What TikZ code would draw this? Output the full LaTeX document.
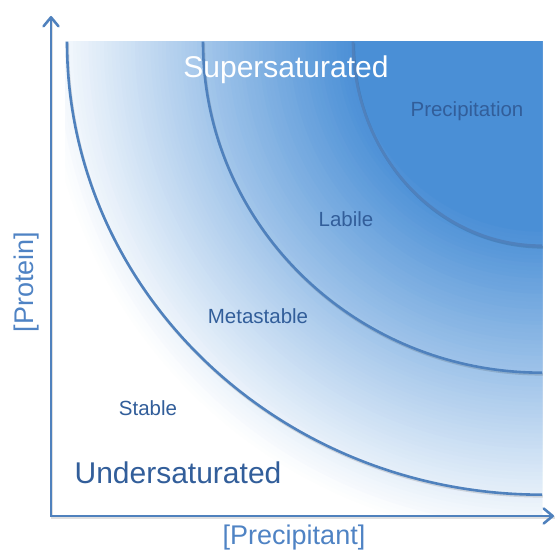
\documentclass[tikz,border=0pt]{standalone}
\usepackage{fontspec}
\setmainfont{Liberation Sans}
\usetikzlibrary{arrows.meta}
\definecolor{zoneblue}{RGB}{74,143,214}
\definecolor{linecol}{RGB}{79,129,189}
\definecolor{labelcol}{RGB}{50,94,154}
\definecolor{axislabel}{RGB}{79,131,196}
\begin{document}
\begin{tikzpicture}[x=1pt,y=1pt,
  boundary/.style={draw=linecol, line width=2.6pt},
  boundaryshadow/.style={draw=black, opacity=0.12, line width=2.6pt},
  axisline/.style={draw=linecol, line width=2.8pt,
    {Straight Barb[length=9pt,width=15pt,line width=2.6pt,round]}-{Straight Barb[length=9pt,width=15pt,line width=2.6pt,round]}},
  zone/.style={text=labelcol, font=\fontsize{20.5}{24}\selectfont},
  regime/.style={font=\fontsize{30}{36}\selectfont},
  axislab/.style={text=axislabel, font=\fontsize{27}{32}\selectfont}]
\useasboundingbox (0,0) rectangle (557,551);
\coordinate (corner) at (542,509.3);

% radial shading from the top right corner of the phase region
\begin{scope}
  \clip (65,35) rectangle (542,509.3);
  \fill[white] (65,35) rectangle (542,509.3);
  \foreach \i in {0,...,80} {
    \pgfmathsetmacro\rad{500-\i*3.875}
    \pgfmathtruncatemacro\pct{\i*1.25}
    \fill[zoneblue!\pct!white] (corner) circle[radius=\rad pt];
  }
\end{scope}

% solubility boundaries
\foreach \rx/\ry in {475/453, 339/331, 189/204} {
  \draw[boundaryshadow] ([shift={(0.8,-1.6)}]corner) ++(-\rx,0)
    arc[start angle=180, end angle=270, x radius=\rx pt, y radius=\ry pt];
  \draw[boundary] (corner) ++(-\rx,0)
    arc[start angle=180, end angle=270, x radius=\rx pt, y radius=\ry pt];
}

% axes
\coordinate (origin) at (51,35);
\coordinate (ytip) at (51,535);
\coordinate (xtip) at (554,35);
\draw[draw=black, opacity=0.12, line width=2.6pt] ([shift={(0.8,-1.6)}]ytip) -- ([shift={(0.8,-1.6)}]origin) -- ([shift={(0.8,-1.6)}]xtip);
\draw[axisline] (ytip) -- (origin) -- (xtip);

% labels
\node[regime, text=white] (super) at (286,481) {Supersaturated};
\node[regime, text=labelcol] (under) at (178,78) {Undersaturated};
\node[zone] (prec) at (467,440) {Precipitation};
\node[zone] (labile) at (346,332) {Labile};
\node[zone] (meta) at (258,235) {Metastable};
\node[zone] (stable) at (148,143) {Stable};
\node[axislab, rotate=90] (ylab) at (27,269) {[Protein]};
\node[axislab] (xlab) at (294,13) {[Precipitant]};
\end{tikzpicture}
\end{document}
